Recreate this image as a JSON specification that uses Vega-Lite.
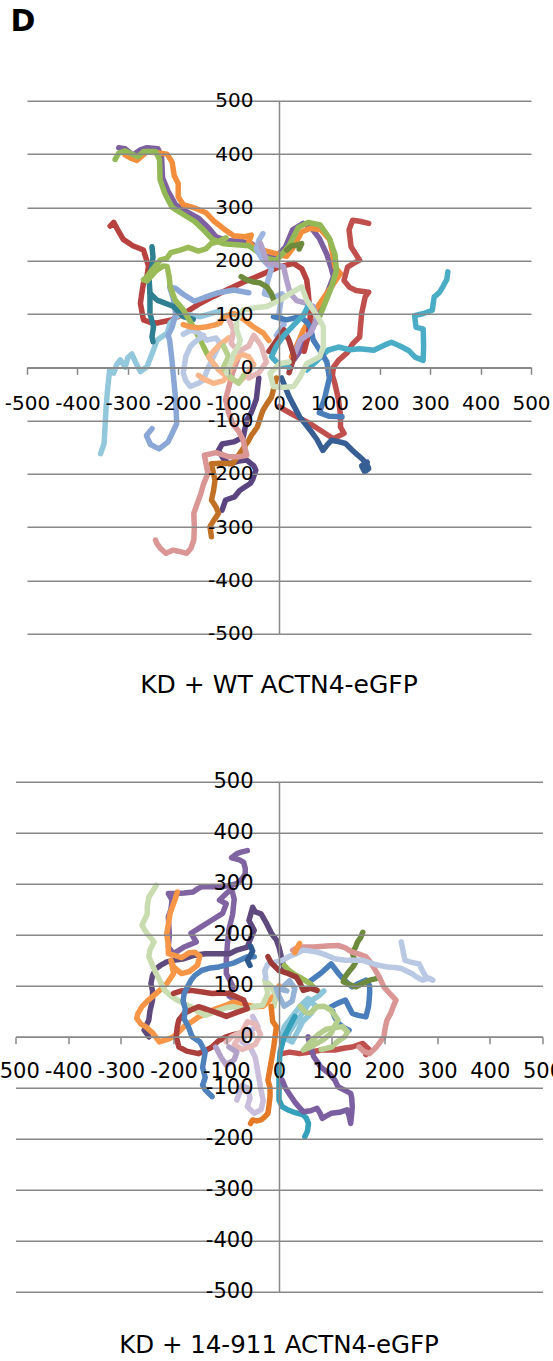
{
"$schema": "https://vega.github.io/schema/vega-lite/v6.json",
"autosize": "none",
"padding": {"left": 15.5, "top": 100.8, "right": 537.5, "bottom": 1260.2},
"background": "white",
"title": {"text": "D", "anchor": "start", "frame": "group", "fontSize": 30, "fontWeight": "bold", "font": "DejaVu Sans", "color": "#000", "offset": 54, "dx": -5},
"datasets": {
"wt": [
{"t":"a01","x":-318,"y":412},{"t":"a01","x":-305,"y":410},{"t":"a01","x":-290,"y":398},{"t":"a01","x":-275,"y":408},{"t":"a01","x":-262,"y":412},{"t":"a01","x":-240,"y":410},{"t":"a01","x":-233,"y":395},{"t":"a01","x":-231,"y":355},{"t":"a01","x":-220,"y":330},{"t":"a01","x":-205,"y":305},{"t":"a01","x":-185,"y":293},{"t":"a01","x":-160,"y":280},{"t":"a01","x":-140,"y":262},{"t":"a01","x":-125,"y":245},{"t":"a01","x":-105,"y":238},{"t":"a01","x":-75,"y":236},{"t":"a01","x":-55,"y":232},{"t":"a01","x":-40,"y":222},{"t":"a01","x":-20,"y":208},{"t":"a01","x":0,"y":213},{"t":"a01","x":13,"y":226},{"t":"a01","x":27,"y":258},{"t":"a01","x":48,"y":270},{"t":"a01","x":62,"y":264},{"t":"a01","x":80,"y":242},{"t":"a01","x":95,"y":212},{"t":"a01","x":104,"y":185},{"t":"a01","x":108,"y":170},{"t":"a01","x":100,"y":150},{"t":"a01","x":90,"y":126},{"t":"a01","x":80,"y":107},{"t":"a01","x":72,"y":85},{"t":"a01","x":60,"y":60},{"t":"a01","x":45,"y":35},{"t":"a01","x":30,"y":15},
{"t":"a02","x":-305,"y":398},{"t":"a02","x":-295,"y":393},{"t":"a02","x":-282,"y":388},{"t":"a02","x":-270,"y":398},{"t":"a02","x":-262,"y":404},{"t":"a02","x":-245,"y":403},{"t":"a02","x":-222,"y":400},{"t":"a02","x":-212,"y":385},{"t":"a02","x":-208,"y":360},{"t":"a02","x":-200,"y":345},{"t":"a02","x":-200,"y":320},{"t":"a02","x":-190,"y":305},{"t":"a02","x":-165,"y":298},{"t":"a02","x":-145,"y":290},{"t":"a02","x":-130,"y":275},{"t":"a02","x":-110,"y":260},{"t":"a02","x":-90,"y":247},{"t":"a02","x":-68,"y":245},{"t":"a02","x":-55,"y":248},{"t":"a02","x":-60,"y":235},{"t":"a02","x":-48,"y":224},{"t":"a02","x":-25,"y":218},{"t":"a02","x":0,"y":212},{"t":"a02","x":15,"y":208},{"t":"a02","x":27,"y":223},{"t":"a02","x":45,"y":254},{"t":"a02","x":62,"y":261},{"t":"a02","x":83,"y":258},{"t":"a02","x":101,"y":239},{"t":"a02","x":106,"y":215},{"t":"a02","x":111,"y":188},{"t":"a02","x":122,"y":176},{"t":"a02","x":104,"y":151},{"t":"a02","x":90,"y":132},{"t":"a02","x":76,"y":113},{"t":"a02","x":60,"y":88},{"t":"a02","x":48,"y":69},{"t":"a02","x":34,"y":38},{"t":"a02","x":25,"y":20},
{"t":"a03","x":-325,"y":390},{"t":"a03","x":-318,"y":402},{"t":"a03","x":-305,"y":406},{"t":"a03","x":-292,"y":400},{"t":"a03","x":-280,"y":395},{"t":"a03","x":-268,"y":405},{"t":"a03","x":-245,"y":405},{"t":"a03","x":-237,"y":390},{"t":"a03","x":-236,"y":352},{"t":"a03","x":-226,"y":325},{"t":"a03","x":-212,"y":300},{"t":"a03","x":-192,"y":288},{"t":"a03","x":-168,"y":274},{"t":"a03","x":-148,"y":256},{"t":"a03","x":-132,"y":240},{"t":"a03","x":-110,"y":232},{"t":"a03","x":-85,"y":230},{"t":"a03","x":-60,"y":228},{"t":"a03","x":-45,"y":218},{"t":"a03","x":-25,"y":205},{"t":"a03","x":-5,"y":200},{"t":"a03","x":20,"y":228},{"t":"a03","x":38,"y":262},{"t":"a03","x":58,"y":272},{"t":"a03","x":82,"y":267},{"t":"a03","x":100,"y":242},{"t":"a03","x":111,"y":212},{"t":"a03","x":114,"y":182},{"t":"a03","x":104,"y":150},{"t":"a03","x":88,"y":112},{"t":"a03","x":76,"y":85},
{"t":"a04","x":-335,"y":265},{"t":"a04","x":-328,"y":272},{"t":"a04","x":-320,"y":258},{"t":"a04","x":-309,"y":240},{"t":"a04","x":-290,"y":228},{"t":"a04","x":-269,"y":220},{"t":"a04","x":-259,"y":190},{"t":"a04","x":-262,"y":170},{"t":"a04","x":-269,"y":158},{"t":"a04","x":-272,"y":140},{"t":"a04","x":-275,"y":120},{"t":"a04","x":-269,"y":89},{"t":"a04","x":-255,"y":84},{"t":"a04","x":-242,"y":83},{"t":"a04","x":-213,"y":89},{"t":"a04","x":-190,"y":100},{"t":"a04","x":-160,"y":118},{"t":"a04","x":-130,"y":133},{"t":"a04","x":-104,"y":145},{"t":"a04","x":-70,"y":160},{"t":"a04","x":-37,"y":173},{"t":"a04","x":-15,"y":182},{"t":"a04","x":2,"y":189},{"t":"a04","x":29,"y":195},{"t":"a04","x":45,"y":185},{"t":"a04","x":55,"y":164},{"t":"a04","x":58,"y":140},{"t":"a04","x":62,"y":95},{"t":"a04","x":58,"y":60},{"t":"a04","x":50,"y":30},
{"t":"a05","x":178,"y":270},{"t":"a05","x":160,"y":274},{"t":"a05","x":146,"y":276},{"t":"a05","x":139,"y":258},{"t":"a05","x":143,"y":226},{"t":"a05","x":160,"y":201},{"t":"a05","x":148,"y":195},{"t":"a05","x":136,"y":188},{"t":"a05","x":129,"y":163},{"t":"a05","x":140,"y":150},{"t":"a05","x":153,"y":144},{"t":"a05","x":178,"y":141},{"t":"a05","x":171,"y":132},{"t":"a05","x":164,"y":101},{"t":"a05","x":162,"y":80},{"t":"a05","x":160,"y":57},{"t":"a05","x":146,"y":44},{"t":"a05","x":136,"y":28},{"t":"a05","x":118,"y":13},{"t":"a05","x":108,"y":0},{"t":"a05","x":106,"y":-15},{"t":"a05","x":111,"y":-31},{"t":"a05","x":118,"y":-60},{"t":"a05","x":122,"y":-90},{"t":"a05","x":122,"y":-112},{"t":"a05","x":129,"y":-124},{"t":"a05","x":108,"y":-134},{"t":"a05","x":85,"y":-120},{"t":"a05","x":62,"y":-106},{"t":"a05","x":30,"y":-90},{"t":"a05","x":0,"y":-74},
{"t":"a06","x":55,"y":-5},{"t":"a06","x":76,"y":13},{"t":"a06","x":97,"y":32},{"t":"a06","x":118,"y":38},{"t":"a06","x":140,"y":33},{"t":"a06","x":160,"y":35},{"t":"a06","x":188,"y":32},{"t":"a06","x":210,"y":42},{"t":"a06","x":223,"y":47},{"t":"a06","x":240,"y":40},{"t":"a06","x":258,"y":31},{"t":"a06","x":270,"y":19},{"t":"a06","x":286,"y":13},{"t":"a06","x":287,"y":40},{"t":"a06","x":286,"y":72},{"t":"a06","x":272,"y":75},{"t":"a06","x":269,"y":97},{"t":"a06","x":287,"y":101},{"t":"a06","x":304,"y":107},{"t":"a06","x":308,"y":132},{"t":"a06","x":318,"y":140},{"t":"a06","x":325,"y":151},{"t":"a06","x":333,"y":165},{"t":"a06","x":335,"y":179},
{"t":"a07","x":-120,"y":105},{"t":"a07","x":-156,"y":95},{"t":"a07","x":-196,"y":101},{"t":"a07","x":-216,"y":83},{"t":"a07","x":-222,"y":64},{"t":"a07","x":-242,"y":51},{"t":"a07","x":-250,"y":30},{"t":"a07","x":-262,"y":1},{"t":"a07","x":-275,"y":-8},{"t":"a07","x":-285,"y":10},{"t":"a07","x":-292,"y":25},{"t":"a07","x":-300,"y":18},{"t":"a07","x":-305,"y":0},{"t":"a07","x":-315,"y":14},{"t":"a07","x":-322,"y":5},{"t":"a07","x":-328,"y":-11},{"t":"a07","x":-336,"y":-5},{"t":"a07","x":-340,"y":-40},{"t":"a07","x":-343,"y":-74},{"t":"a07","x":-345,"y":-110},{"t":"a07","x":-347,"y":-143},{"t":"a07","x":-354,"y":-162},
{"t":"a08","x":-60,"y":140},{"t":"a08","x":-90,"y":145},{"t":"a08","x":-120,"y":140},{"t":"a08","x":-148,"y":131},{"t":"a08","x":-168,"y":124},{"t":"a08","x":-190,"y":137},{"t":"a08","x":-205,"y":148},{"t":"a08","x":-217,"y":151},{"t":"a08","x":-210,"y":130},{"t":"a08","x":-205,"y":100},{"t":"a08","x":-212,"y":75},{"t":"a08","x":-220,"y":60},{"t":"a08","x":-217,"y":51},{"t":"a08","x":-212,"y":10},{"t":"a08","x":-210,"y":-12},{"t":"a08","x":-205,"y":-60},{"t":"a08","x":-203,"y":-106},{"t":"a08","x":-220,"y":-140},{"t":"a08","x":-238,"y":-153},{"t":"a08","x":-255,"y":-145},{"t":"a08","x":-263,"y":-128},{"t":"a08","x":-252,"y":-115},
{"t":"a25","x":-32,"y":251},{"t":"a25","x":-40,"y":238},{"t":"a25","x":-45,"y":222},{"t":"a25","x":-35,"y":205},{"t":"a25","x":-15,"y":185},{"t":"a25","x":-22,"y":163},{"t":"a25","x":-29,"y":138},{"t":"a25","x":-8,"y":132},{"t":"a25","x":6,"y":138},{"t":"a25","x":0,"y":100},{"t":"a25","x":10,"y":80},{"t":"a25","x":-5,"y":60},
{"t":"a09","x":5,"y":-20},{"t":"a09","x":20,"y":-55},{"t":"a09","x":41,"y":-93},{"t":"a09","x":62,"y":-118},{"t":"a09","x":75,"y":-135},{"t":"a09","x":87,"y":-156},{"t":"a09","x":96,"y":-145},{"t":"a09","x":104,"y":-137},{"t":"a09","x":120,"y":-140},{"t":"a09","x":132,"y":-143},{"t":"a09","x":145,"y":-155},{"t":"a09","x":153,"y":-162},{"t":"a09","x":165,"y":-172},{"t":"a09","x":174,"y":-181},{"t":"a09","x":178,"y":-190},{"t":"a09","x":170,"y":-196},{"t":"a09","x":164,"y":-185},{"t":"a09","x":175,"y":-178},
{"t":"a20","x":-11,"y":95},{"t":"a20","x":15,"y":89},{"t":"a20","x":42,"y":95},{"t":"a20","x":55,"y":85},{"t":"a20","x":62,"y":76},{"t":"a20","x":68,"y":51},{"t":"a20","x":81,"y":32},{"t":"a20","x":95,"y":10},{"t":"a20","x":100,"y":-20},{"t":"a20","x":90,"y":-60},{"t":"a20","x":80,"y":-85},{"t":"a20","x":100,"y":-92},{"t":"a20","x":125,"y":-93},
{"t":"a10","x":-40,"y":-20},{"t":"a10","x":-45,"y":-60},{"t":"a10","x":-55,"y":-85},{"t":"a10","x":-64,"y":-99},{"t":"a10","x":-71,"y":-131},{"t":"a10","x":-90,"y":-140},{"t":"a10","x":-113,"y":-144},{"t":"a10","x":-120,"y":-156},{"t":"a10","x":-110,"y":-172},{"t":"a10","x":-99,"y":-181},{"t":"a10","x":-80,"y":-176},{"t":"a10","x":-64,"y":-174},{"t":"a10","x":-50,"y":-185},{"t":"a10","x":-46,"y":-193},{"t":"a10","x":-52,"y":-210},{"t":"a10","x":-57,"y":-218},{"t":"a10","x":-70,"y":-226},{"t":"a10","x":-78,"y":-231},{"t":"a10","x":-88,"y":-243},{"t":"a10","x":-106,"y":-249},{"t":"a10","x":-113,"y":-268},
{"t":"a11","x":-5,"y":-20},{"t":"a11","x":-15,"y":-56},{"t":"a11","x":-25,"y":-70},{"t":"a11","x":-32,"y":-81},{"t":"a11","x":-43,"y":-112},{"t":"a11","x":-55,"y":-128},{"t":"a11","x":-60,"y":-137},{"t":"a11","x":-74,"y":-156},{"t":"a11","x":-92,"y":-181},{"t":"a11","x":-115,"y":-180},{"t":"a11","x":-134,"y":-181},{"t":"a11","x":-127,"y":-212},{"t":"a11","x":-130,"y":-232},{"t":"a11","x":-134,"y":-249},{"t":"a11","x":-125,"y":-262},{"t":"a11","x":-120,"y":-274},{"t":"a11","x":-130,"y":-288},{"t":"a11","x":-137,"y":-299},{"t":"a11","x":-134,"y":-318},
{"t":"a12","x":-80,"y":20},{"t":"a12","x":-92,"y":-10},{"t":"a12","x":-106,"y":-60},{"t":"a12","x":-100,"y":-85},{"t":"a12","x":-92,"y":-106},{"t":"a12","x":-80,"y":-120},{"t":"a12","x":-71,"y":-137},{"t":"a12","x":-68,"y":-150},{"t":"a12","x":-64,"y":-165},{"t":"a12","x":-80,"y":-168},{"t":"a12","x":-99,"y":-168},{"t":"a12","x":-125,"y":-160},{"t":"a12","x":-148,"y":-165},{"t":"a12","x":-141,"y":-199},{"t":"a12","x":-150,"y":-220},{"t":"a12","x":-155,"y":-237},{"t":"a12","x":-162,"y":-255},{"t":"a12","x":-169,"y":-274},{"t":"a12","x":-168,"y":-300},{"t":"a12","x":-169,"y":-324},{"t":"a12","x":-175,"y":-340},{"t":"a12","x":-183,"y":-349},{"t":"a12","x":-200,"y":-345},{"t":"a12","x":-210,"y":-343},{"t":"a12","x":-224,"y":-349},{"t":"a12","x":-235,"y":-340},{"t":"a12","x":-242,"y":-331},{"t":"a12","x":-245,"y":-324},
{"t":"a13","x":-252,"y":226},{"t":"a13","x":-250,"y":208},{"t":"a13","x":-252,"y":189},{"t":"a13","x":-258,"y":170},{"t":"a13","x":-256,"y":139},{"t":"a13","x":-256,"y":120},{"t":"a13","x":-256,"y":101},{"t":"a13","x":-249,"y":76},{"t":"a13","x":-252,"y":57},{"t":"a13","x":-250,"y":48},
{"t":"a26","x":-256,"y":139},{"t":"a26","x":-242,"y":126},{"t":"a26","x":-225,"y":120},{"t":"a26","x":-209,"y":114},{"t":"a26","x":-190,"y":95},{"t":"a26","x":-170,"y":90},
{"t":"a14","x":-105,"y":243},{"t":"a14","x":-120,"y":236},{"t":"a14","x":-135,"y":232},{"t":"a14","x":-145,"y":222},{"t":"a14","x":-160,"y":218},{"t":"a14","x":-180,"y":225},{"t":"a14","x":-196,"y":220},{"t":"a14","x":-215,"y":215},{"t":"a14","x":-222,"y":205},{"t":"a14","x":-236,"y":201},{"t":"a14","x":-250,"y":185},{"t":"a14","x":-262,"y":170},{"t":"a14","x":-269,"y":164},{"t":"a14","x":-262,"y":162},{"t":"a14","x":-245,"y":180},{"t":"a14","x":-230,"y":190},{"t":"a14","x":-222,"y":189},{"t":"a14","x":-218,"y":170},{"t":"a14","x":-216,"y":151},{"t":"a14","x":-206,"y":126},{"t":"a14","x":-190,"y":108},{"t":"a14","x":-170,"y":76},{"t":"a14","x":-156,"y":51},{"t":"a14","x":-143,"y":26},{"t":"a14","x":-130,"y":5},
{"t":"a16","x":-150,"y":60},{"t":"a16","x":-170,"y":45},{"t":"a16","x":-176,"y":39},{"t":"a16","x":-185,"y":20},{"t":"a16","x":-190,"y":-11},{"t":"a16","x":-185,"y":-25},{"t":"a16","x":-176,"y":-36},{"t":"a16","x":-160,"y":-30},{"t":"a16","x":-150,"y":-24},{"t":"a16","x":-140,"y":0},{"t":"a16","x":-130,"y":20},{"t":"a16","x":-117,"y":45},{"t":"a16","x":-125,"y":55},{"t":"a16","x":-143,"y":51},{"t":"a16","x":-160,"y":65},{"t":"a16","x":-175,"y":70},{"t":"a16","x":-190,"y":62},
{"t":"a17","x":-160,"y":-15},{"t":"a17","x":-150,"y":-22},{"t":"a17","x":-130,"y":-30},{"t":"a17","x":-110,"y":-25},{"t":"a17","x":-100,"y":-10},{"t":"a17","x":-90,"y":10},{"t":"a17","x":-75,"y":25},{"t":"a17","x":-60,"y":20},{"t":"a17","x":-50,"y":5},{"t":"a17","x":-65,"y":-15},{"t":"a17","x":-80,"y":-28},{"t":"a17","x":-100,"y":-20},{"t":"a17","x":-120,"y":-5},{"t":"a17","x":-140,"y":20},{"t":"a17","x":-120,"y":40},{"t":"a17","x":-100,"y":55},
{"t":"a18","x":-100,"y":90},{"t":"a18","x":-90,"y":70},{"t":"a18","x":-95,"y":45},{"t":"a18","x":-80,"y":30},{"t":"a18","x":-60,"y":40},{"t":"a18","x":-50,"y":60},{"t":"a18","x":-35,"y":40},{"t":"a18","x":-25,"y":10},{"t":"a18","x":-40,"y":-10},{"t":"a18","x":-60,"y":-20},
{"t":"a19","x":-37,"y":233},{"t":"a19","x":-30,"y":215},{"t":"a19","x":-24,"y":195},{"t":"a19","x":-5,"y":192},{"t":"a19","x":9,"y":189},{"t":"a19","x":15,"y":164},{"t":"a19","x":22,"y":139},{"t":"a19","x":35,"y":125},{"t":"a19","x":55,"y":120},{"t":"a19","x":68,"y":114},{"t":"a19","x":75,"y":89},{"t":"a19","x":62,"y":64},{"t":"a19","x":42,"y":51},{"t":"a19","x":29,"y":20},
{"t":"a21","x":-75,"y":170},{"t":"a21","x":-64,"y":164},{"t":"a21","x":-50,"y":160},{"t":"a21","x":-37,"y":158},{"t":"a21","x":-24,"y":151},{"t":"a21","x":-15,"y":138},{"t":"a21","x":-10,"y":125},
{"t":"a27","x":15,"y":220},{"t":"a27","x":25,"y":228},{"t":"a27","x":34,"y":229},{"t":"a27","x":45,"y":232},{"t":"a27","x":40,"y":222},
{"t":"a22","x":-20,"y":30},{"t":"a22","x":-5,"y":50},{"t":"a22","x":10,"y":70},{"t":"a22","x":20,"y":50},{"t":"a22","x":30,"y":20},{"t":"a22","x":20,"y":-10},
{"t":"a23","x":-110,"y":40},{"t":"a23","x":-100,"y":20},{"t":"a23","x":-110,"y":0},{"t":"a23","x":-95,"y":-20},{"t":"a23","x":-80,"y":-30},{"t":"a23","x":-70,"y":-15},
{"t":"a24","x":-190,"y":80},{"t":"a24","x":-176,"y":76},{"t":"a24","x":-160,"y":74},{"t":"a24","x":-143,"y":76},{"t":"a24","x":-125,"y":80},{"t":"a24","x":-117,"y":83},{"t":"a24","x":-110,"y":95},{"t":"a24","x":-90,"y":101},{"t":"a24","x":-70,"y":90},{"t":"a24","x":-51,"y":76},{"t":"a24","x":-31,"y":64},{"t":"a24","x":-20,"y":50},
{"t":"a28","x":60,"y":120},{"t":"a28","x":50,"y":100},{"t":"a28","x":30,"y":80},{"t":"a28","x":10,"y":60},{"t":"a28","x":-5,"y":40},{"t":"a28","x":-15,"y":20},{"t":"a28","x":0,"y":5},{"t":"a28","x":20,"y":0},
{"t":"a15","x":-104,"y":-11},{"t":"a15","x":-95,"y":10},{"t":"a15","x":-90,"y":26},{"t":"a15","x":-80,"y":40},{"t":"a15","x":-77,"y":51},{"t":"a15","x":-84,"y":70},{"t":"a15","x":-84,"y":89},{"t":"a15","x":-71,"y":108},{"t":"a15","x":-45,"y":112},{"t":"a15","x":-24,"y":114},{"t":"a15","x":2,"y":126},{"t":"a15","x":25,"y":140},{"t":"a15","x":45,"y":151},{"t":"a15","x":55,"y":126},{"t":"a15","x":68,"y":107},{"t":"a15","x":80,"y":90},{"t":"a15","x":88,"y":76},{"t":"a15","x":88,"y":55},{"t":"a15","x":88,"y":39},{"t":"a15","x":81,"y":20},{"t":"a15","x":55,"y":7},{"t":"a15","x":42,"y":-18},{"t":"a15","x":29,"y":-36},{"t":"a15","x":5,"y":-38},{"t":"a15","x":-11,"y":-36},{"t":"a15","x":-18,"y":-11},{"t":"a15","x":2,"y":7},{"t":"a15","x":20,"y":10}
],
"kd": [
{"t":"b01","x":-60,"y":365},{"t":"b01","x":-72,"y":362},{"t":"b01","x":-80,"y":359},{"t":"b01","x":-90,"y":351},{"t":"b01","x":-75,"y":347},{"t":"b01","x":-67,"y":342},{"t":"b01","x":-64,"y":330},{"t":"b01","x":-64,"y":320},{"t":"b01","x":-70,"y":310},{"t":"b01","x":-80,"y":300},{"t":"b01","x":-95,"y":297},{"t":"b01","x":-107,"y":294},{"t":"b01","x":-127,"y":294},{"t":"b01","x":-147,"y":294},{"t":"b01","x":-155,"y":290},{"t":"b01","x":-163,"y":284},{"t":"b01","x":-180,"y":282},{"t":"b01","x":-193,"y":281},{"t":"b01","x":-210,"y":281},{"t":"b01","x":-203,"y":268},{"t":"b01","x":-205,"y":250},{"t":"b01","x":-210,"y":235},{"t":"b01","x":-208,"y":200},{"t":"b01","x":-210,"y":176},{"t":"b01","x":-200,"y":163},{"t":"b01","x":-180,"y":176},{"t":"b01","x":-157,"y":186},{"t":"b01","x":-167,"y":203},{"t":"b01","x":-147,"y":216},{"t":"b01","x":-127,"y":229},{"t":"b01","x":-107,"y":242},{"t":"b01","x":-100,"y":261},{"t":"b01","x":-113,"y":268},{"t":"b01","x":-100,"y":281},{"t":"b01","x":-90,"y":290},{"t":"b01","x":-85,"y":270},{"t":"b01","x":-88,"y":240},{"t":"b01","x":-95,"y":210},{"t":"b01","x":-98,"y":180},{"t":"b01","x":-100,"y":150},{"t":"b01","x":-100,"y":124},{"t":"b01","x":-87,"y":98},{"t":"b01","x":-95,"y":80},{"t":"b01","x":-80,"y":70},
{"t":"b02","x":-247,"y":0},{"t":"b02","x":-250,"y":5},{"t":"b02","x":-256,"y":13},{"t":"b02","x":-247,"y":33},{"t":"b02","x":-245,"y":50},{"t":"b02","x":-240,"y":72},{"t":"b02","x":-240,"y":90},{"t":"b02","x":-243,"y":104},{"t":"b02","x":-240,"y":120},{"t":"b02","x":-233,"y":134},{"t":"b02","x":-225,"y":140},{"t":"b02","x":-213,"y":147},{"t":"b02","x":-200,"y":150},{"t":"b02","x":-180,"y":153},{"t":"b02","x":-160,"y":160},{"t":"b02","x":-140,"y":163},{"t":"b02","x":-120,"y":163},{"t":"b02","x":-94,"y":163},{"t":"b02","x":-80,"y":170},{"t":"b02","x":-60,"y":176},{"t":"b02","x":-55,"y":190},{"t":"b02","x":-47,"y":209},{"t":"b02","x":-57,"y":228},{"t":"b02","x":-50,"y":254},{"t":"b02","x":-45,"y":245},{"t":"b02","x":-34,"y":241},{"t":"b02","x":-25,"y":225},{"t":"b02","x":-14,"y":202},{"t":"b02","x":-5,"y":190},{"t":"b02","x":0,"y":176},{"t":"b02","x":6,"y":150},{"t":"b02","x":10,"y":130},
{"t":"b03","x":-193,"y":284},{"t":"b03","x":-197,"y":270},{"t":"b03","x":-207,"y":241},{"t":"b03","x":-210,"y":220},{"t":"b03","x":-213,"y":202},{"t":"b03","x":-210,"y":180},{"t":"b03","x":-210,"y":163},{"t":"b03","x":-200,"y":160},{"t":"b03","x":-185,"y":155},{"t":"b03","x":-170,"y":165},{"t":"b03","x":-160,"y":166},{"t":"b03","x":-150,"y":158},{"t":"b03","x":-155,"y":140},{"t":"b03","x":-170,"y":128},{"t":"b03","x":-185,"y":124},{"t":"b03","x":-200,"y":137},{"t":"b03","x":-205,"y":150},{"t":"b03","x":-200,"y":124},{"t":"b03","x":-213,"y":104},{"t":"b03","x":-233,"y":85},{"t":"b03","x":-250,"y":70},{"t":"b03","x":-260,"y":59},{"t":"b03","x":-268,"y":45},{"t":"b03","x":-270,"y":36},{"t":"b03","x":-262,"y":25},{"t":"b03","x":-253,"y":20},{"t":"b03","x":-240,"y":8},{"t":"b03","x":-227,"y":-10},{"t":"b03","x":-212,"y":-5},{"t":"b03","x":-200,"y":0},{"t":"b03","x":-190,"y":10},{"t":"b03","x":-180,"y":20},{"t":"b03","x":-165,"y":30},{"t":"b03","x":-153,"y":39},{"t":"b03","x":-135,"y":48},{"t":"b03","x":-120,"y":55},{"t":"b03","x":-100,"y":62},{"t":"b03","x":-87,"y":68},{"t":"b03","x":-70,"y":65},{"t":"b03","x":-47,"y":59},{"t":"b03","x":-30,"y":60},{"t":"b03","x":-10,"y":80},{"t":"b03","x":0,"y":100},
{"t":"b04","x":-233,"y":297},{"t":"b04","x":-240,"y":285},{"t":"b04","x":-247,"y":274},{"t":"b04","x":-250,"y":255},{"t":"b04","x":-250,"y":241},{"t":"b04","x":-255,"y":230},{"t":"b04","x":-260,"y":219},{"t":"b04","x":-255,"y":210},{"t":"b04","x":-250,"y":202},{"t":"b04","x":-237,"y":186},{"t":"b04","x":-245,"y":170},{"t":"b04","x":-247,"y":157},{"t":"b04","x":-240,"y":140},{"t":"b04","x":-233,"y":124},{"t":"b04","x":-225,"y":108},{"t":"b04","x":-217,"y":91},{"t":"b04","x":-205,"y":80},{"t":"b04","x":-193,"y":72},{"t":"b04","x":-180,"y":65},{"t":"b04","x":-167,"y":59},{"t":"b04","x":-155,"y":50},{"t":"b04","x":-140,"y":42},{"t":"b04","x":-125,"y":48},{"t":"b04","x":-114,"y":52},{"t":"b04","x":-100,"y":57},{"t":"b04","x":-87,"y":59},{"t":"b04","x":-72,"y":55},{"t":"b04","x":-60,"y":55},{"t":"b04","x":-45,"y":60},{"t":"b04","x":-31,"y":62},{"t":"b04","x":-21,"y":85},{"t":"b04","x":-27,"y":111},{"t":"b04","x":-15,"y":100},{"t":"b04","x":-5,"y":80},{"t":"b04","x":-10,"y":60},
{"t":"b05","x":-200,"y":85},{"t":"b05","x":-185,"y":90},{"t":"b05","x":-167,"y":91},{"t":"b05","x":-145,"y":88},{"t":"b05","x":-127,"y":85},{"t":"b05","x":-110,"y":86},{"t":"b05","x":-94,"y":85},{"t":"b05","x":-80,"y":78},{"t":"b05","x":-67,"y":72},{"t":"b05","x":-60,"y":55},{"t":"b05","x":-80,"y":48},{"t":"b05","x":-100,"y":40},{"t":"b05","x":-120,"y":48},{"t":"b05","x":-140,"y":55},{"t":"b05","x":-153,"y":59},{"t":"b05","x":-168,"y":52},{"t":"b05","x":-180,"y":46},{"t":"b05","x":-190,"y":33},{"t":"b05","x":-193,"y":20},{"t":"b05","x":-195,"y":0},{"t":"b05","x":-190,"y":-20},{"t":"b05","x":-175,"y":-28},{"t":"b05","x":-153,"y":-33},{"t":"b05","x":-140,"y":-27},{"t":"b05","x":-127,"y":-20},{"t":"b05","x":-115,"y":-8},{"t":"b05","x":-100,"y":0},{"t":"b05","x":-87,"y":4},{"t":"b05","x":-74,"y":7},
{"t":"b06","x":6,"y":-33},{"t":"b06","x":20,"y":-30},{"t":"b06","x":39,"y":-33},{"t":"b06","x":60,"y":-30},{"t":"b06","x":80,"y":-26},{"t":"b06","x":106,"y":-26},{"t":"b06","x":125,"y":-22},{"t":"b06","x":139,"y":-20},{"t":"b06","x":159,"y":-13},{"t":"b06","x":172,"y":-26},{"t":"b06","x":165,"y":-35},
{"t":"b07","x":-47,"y":157},{"t":"b07","x":-60,"y":157},{"t":"b07","x":-85,"y":145},{"t":"b07","x":-114,"y":137},{"t":"b07","x":-130,"y":135},{"t":"b07","x":-147,"y":130},{"t":"b07","x":-160,"y":120},{"t":"b07","x":-167,"y":111},{"t":"b07","x":-175,"y":95},{"t":"b07","x":-180,"y":85},{"t":"b07","x":-182,"y":70},{"t":"b07","x":-178,"y":55},{"t":"b07","x":-180,"y":35},{"t":"b07","x":-172,"y":20},{"t":"b07","x":-165,"y":0},{"t":"b07","x":-150,"y":-10},{"t":"b07","x":-140,"y":-30},{"t":"b07","x":-145,"y":-60},{"t":"b07","x":-140,"y":-80},{"t":"b07","x":-145,"y":-95},{"t":"b07","x":-140,"y":-104},{"t":"b07","x":-133,"y":-111},{"t":"b07","x":-127,"y":-117},
{"t":"b08","x":60,"y":110},{"t":"b08","x":80,"y":125},{"t":"b08","x":99,"y":143},{"t":"b08","x":105,"y":135},{"t":"b08","x":113,"y":124},{"t":"b08","x":125,"y":110},{"t":"b08","x":139,"y":98},{"t":"b08","x":152,"y":105},{"t":"b08","x":165,"y":111},{"t":"b08","x":172,"y":100},{"t":"b08","x":172,"y":85},{"t":"b08","x":170,"y":60},{"t":"b08","x":165,"y":39},{"t":"b08","x":150,"y":42},{"t":"b08","x":139,"y":46},{"t":"b08","x":132,"y":60},{"t":"b08","x":126,"y":72},{"t":"b08","x":110,"y":65},{"t":"b08","x":99,"y":59},{"t":"b08","x":105,"y":40},{"t":"b08","x":113,"y":26},{"t":"b08","x":123,"y":18},{"t":"b08","x":133,"y":13},
{"t":"b09","x":159,"y":205},{"t":"b09","x":155,"y":195},{"t":"b09","x":149,"y":186},{"t":"b09","x":145,"y":175},{"t":"b09","x":139,"y":166},{"t":"b09","x":142,"y":155},{"t":"b09","x":146,"y":147},{"t":"b09","x":140,"y":137},{"t":"b09","x":132,"y":127},{"t":"b09","x":125,"y":117},{"t":"b09","x":122,"y":108},{"t":"b09","x":135,"y":102},{"t":"b09","x":146,"y":98},{"t":"b09","x":160,"y":105},{"t":"b09","x":172,"y":111},{"t":"b09","x":185,"y":114},
{"t":"b10","x":10,"y":140},{"t":"b10","x":19,"y":130},{"t":"b10","x":30,"y":122},{"t":"b10","x":39,"y":117},{"t":"b10","x":50,"y":110},{"t":"b10","x":59,"y":104},{"t":"b10","x":72,"y":91},{"t":"b10","x":80,"y":85},
{"t":"b11","x":26,"y":170},{"t":"b11","x":35,"y":175},{"t":"b11","x":46,"y":176},{"t":"b11","x":66,"y":176},{"t":"b11","x":90,"y":178},{"t":"b11","x":112,"y":179},{"t":"b11","x":125,"y":175},{"t":"b11","x":139,"y":166},{"t":"b11","x":152,"y":162},{"t":"b11","x":165,"y":157},{"t":"b11","x":172,"y":148},{"t":"b11","x":179,"y":137},{"t":"b11","x":190,"y":118},{"t":"b11","x":199,"y":98},{"t":"b11","x":210,"y":85},{"t":"b11","x":222,"y":72},{"t":"b11","x":217,"y":60},{"t":"b11","x":212,"y":46},{"t":"b11","x":205,"y":33},{"t":"b11","x":202,"y":20},{"t":"b11","x":199,"y":0},{"t":"b11","x":192,"y":-10},{"t":"b11","x":185,"y":-20},{"t":"b11","x":172,"y":-33},{"t":"b11","x":160,"y":-28},{"t":"b11","x":152,"y":-20},
{"t":"b12","x":232,"y":186},{"t":"b12","x":235,"y":170},{"t":"b12","x":239,"y":150},{"t":"b12","x":252,"y":146},{"t":"b12","x":266,"y":143},{"t":"b12","x":272,"y":130},{"t":"b12","x":279,"y":117},{"t":"b12","x":292,"y":111},{"t":"b12","x":285,"y":115},{"t":"b12","x":272,"y":111},{"t":"b12","x":260,"y":118},{"t":"b12","x":252,"y":124},{"t":"b12","x":232,"y":134},{"t":"b12","x":220,"y":136},{"t":"b12","x":206,"y":137},{"t":"b12","x":190,"y":140},{"t":"b12","x":179,"y":143},{"t":"b12","x":159,"y":150},{"t":"b12","x":140,"y":150},{"t":"b12","x":126,"y":150},{"t":"b12","x":106,"y":153},{"t":"b12","x":90,"y":160},{"t":"b12","x":73,"y":166},{"t":"b12","x":60,"y":168},{"t":"b12","x":46,"y":170},{"t":"b12","x":33,"y":163},{"t":"b12","x":20,"y":158},{"t":"b12","x":6,"y":150},{"t":"b12","x":-10,"y":146},{"t":"b12","x":-21,"y":143},{"t":"b12","x":-27,"y":130},{"t":"b12","x":-25,"y":115},
{"t":"b13","x":85,"y":90},{"t":"b13","x":75,"y":80},{"t":"b13","x":60,"y":70},{"t":"b13","x":50,"y":55},{"t":"b13","x":40,"y":40},{"t":"b13","x":30,"y":25},{"t":"b13","x":20,"y":10},{"t":"b13","x":15,"y":-5},{"t":"b13","x":25,"y":-10},{"t":"b13","x":35,"y":10},{"t":"b13","x":45,"y":30},{"t":"b13","x":60,"y":45},{"t":"b13","x":70,"y":60},{"t":"b13","x":55,"y":75},{"t":"b13","x":40,"y":60},{"t":"b13","x":25,"y":40},{"t":"b13","x":10,"y":20},{"t":"b13","x":5,"y":0},
{"t":"b14","x":30,"y":40},{"t":"b14","x":20,"y":20},{"t":"b14","x":10,"y":0},{"t":"b14","x":2,"y":-30},{"t":"b14","x":0,"y":-60},{"t":"b14","x":0,"y":-90},{"t":"b14","x":0,"y":-124},{"t":"b14","x":6,"y":-137},{"t":"b14","x":16,"y":-143},{"t":"b14","x":26,"y":-147},{"t":"b14","x":36,"y":-150},{"t":"b14","x":46,"y":-153},{"t":"b14","x":52,"y":-160},{"t":"b14","x":56,"y":-170},{"t":"b14","x":54,"y":-185},{"t":"b14","x":49,"y":-196},
{"t":"b15","x":55,"y":0},{"t":"b15","x":60,"y":-20},{"t":"b15","x":66,"y":-39},{"t":"b15","x":72,"y":-48},{"t":"b15","x":79,"y":-59},{"t":"b15","x":95,"y":-72},{"t":"b15","x":106,"y":-85},{"t":"b15","x":112,"y":-98},{"t":"b15","x":125,"y":-105},{"t":"b15","x":136,"y":-111},{"t":"b15","x":138,"y":-120},{"t":"b15","x":139,"y":-137},{"t":"b15","x":138,"y":-150},{"t":"b15","x":136,"y":-170},{"t":"b15","x":133,"y":-155},{"t":"b15","x":129,"y":-143},{"t":"b15","x":115,"y":-148},{"t":"b15","x":99,"y":-150},{"t":"b15","x":90,"y":-155},{"t":"b15","x":82,"y":-160},{"t":"b15","x":78,"y":-150},{"t":"b15","x":72,"y":-140},{"t":"b15","x":60,"y":-145},{"t":"b15","x":46,"y":-147},{"t":"b15","x":30,"y":-128},{"t":"b15","x":19,"y":-111},{"t":"b15","x":12,"y":-100},{"t":"b15","x":6,"y":-85},
{"t":"b16","x":-15,"y":60},{"t":"b16","x":-12,"y":30},{"t":"b16","x":-5,"y":20},{"t":"b16","x":-10,"y":-20},{"t":"b16","x":-15,"y":-50},{"t":"b16","x":-21,"y":-85},{"t":"b16","x":-17,"y":-100},{"t":"b16","x":-17,"y":-117},{"t":"b16","x":-19,"y":-135},{"t":"b16","x":-21,"y":-150},{"t":"b16","x":-28,"y":-158},{"t":"b16","x":-34,"y":-163},{"t":"b16","x":-42,"y":-165},{"t":"b16","x":-50,"y":-163},{"t":"b16","x":-54,"y":-170},
{"t":"b17","x":-50,"y":40},{"t":"b17","x":-40,"y":20},{"t":"b17","x":-60,"y":10},{"t":"b17","x":-70,"y":-10},{"t":"b17","x":-55,"y":-20},{"t":"b17","x":-45,"y":-40},{"t":"b17","x":-40,"y":-70},{"t":"b17","x":-35,"y":-100},{"t":"b17","x":-30,"y":-125},{"t":"b17","x":-34,"y":-143},{"t":"b17","x":-47,"y":-150},{"t":"b17","x":-60,"y":-137},{"t":"b17","x":-55,"y":-120},{"t":"b17","x":-60,"y":-100},{"t":"b17","x":-70,"y":-95},{"t":"b17","x":-75,"y":-110},{"t":"b17","x":-80,"y":-124},
{"t":"b18","x":-100,"y":-10},{"t":"b18","x":-90,"y":0},{"t":"b18","x":-70,"y":10},{"t":"b18","x":-60,"y":30},{"t":"b18","x":-45,"y":25},{"t":"b18","x":-35,"y":5},{"t":"b18","x":-45,"y":-15},{"t":"b18","x":-70,"y":-25},{"t":"b18","x":-85,"y":-15},{"t":"b18","x":-75,"y":0},{"t":"b18","x":-50,"y":5},
{"t":"b19","x":-120,"y":-20},{"t":"b19","x":-110,"y":-40},{"t":"b19","x":-100,"y":-55},{"t":"b19","x":-85,"y":-45},{"t":"b19","x":-80,"y":-30},{"t":"b19","x":-95,"y":-20},
{"t":"b20","x":10,"y":100},{"t":"b20","x":20,"y":110},{"t":"b20","x":30,"y":95},{"t":"b20","x":25,"y":70},{"t":"b20","x":10,"y":60},{"t":"b20","x":0,"y":80},{"t":"b20","x":-5,"y":95},{"t":"b20","x":15,"y":90},
{"t":"b21","x":-54,"y":178},{"t":"b21","x":-50,"y":168},{"t":"b21","x":-54,"y":160},{"t":"b21","x":-60,"y":150},{"t":"b21","x":-55,"y":140},
{"t":"b22","x":-21,"y":157},{"t":"b22","x":-15,"y":145},{"t":"b22","x":0,"y":130},{"t":"b22","x":15,"y":125},{"t":"b22","x":33,"y":117},{"t":"b22","x":40,"y":105},{"t":"b22","x":46,"y":91},{"t":"b22","x":60,"y":95},{"t":"b22","x":72,"y":91},
{"t":"b23","x":40,"y":60},{"t":"b23","x":50,"y":48},{"t":"b23","x":59,"y":46},{"t":"b23","x":72,"y":59},{"t":"b23","x":85,"y":60},{"t":"b23","x":99,"y":52},{"t":"b23","x":112,"y":33},{"t":"b23","x":105,"y":20},{"t":"b23","x":99,"y":7},{"t":"b23","x":85,"y":-5},{"t":"b23","x":72,"y":-13},{"t":"b23","x":60,"y":-20},{"t":"b23","x":46,"y":-26},{"t":"b23","x":60,"y":-10},{"t":"b23","x":75,"y":5},{"t":"b23","x":90,"y":15},{"t":"b23","x":120,"y":20},{"t":"b23","x":130,"y":10},{"t":"b23","x":125,"y":0},{"t":"b23","x":110,"y":-10},{"t":"b23","x":100,"y":-20},{"t":"b23","x":80,"y":-25},
{"t":"b24","x":39,"y":183},{"t":"b24","x":35,"y":175},{"t":"b24","x":30,"y":165}
]
},
"vconcat": [
{
"width": 504, "height": 533,
"data": {"name": "wt"},
"title": {"text": "KD + WT ACTN4-eGFP", "orient": "bottom", "anchor": "middle", "fontSize": 25, "fontWeight": "normal", "font": "DejaVu Sans", "color": "#000", "offset": 29},
"mark": {"type": "line", "strokeWidth": 5.5, "strokeCap": "round", "strokeJoin": "round"},
"encoding": {
"x": {"field": "x", "type": "quantitative", "scale": {"domain": [-500, 500], "nice": false, "zero": false},
 "axis": {"orient": "bottom", "offset": -266.5, "values": [-500,-400,-300,-200,-100,0,100,200,300,400,500], "labelExpr": "'' + datum.value", "grid": false, "title": null, "domainColor": "#888888", "domainWidth": 1.5, "tickColor": "#888888", "tickWidth": 1.5, "tickSize": 7, "labelFontSize": 20, "labelFont": "DejaVu Sans", "labelColor": "#000", "labelPadding": 19, "labelFlush": false, "labelOverlap": false, "labelBound": false, "zindex": 1}},
"y": {"field": "y", "type": "quantitative", "scale": {"domain": [-500, 500], "nice": false, "zero": false},
 "axis": {"orient": "left", "offset": -252, "values": [-500,-400,-300,-200,-100,0,100,200,300,400,500], "labelExpr": "'' + datum.value", "grid": true, "gridColor": "#888888", "gridWidth": 1.5, "gridOpacity": 1, "title": null, "domainColor": "#888888", "domainWidth": 1.5, "ticks": false, "tickSize": 0, "labelFontSize": 20, "labelFont": "DejaVu Sans", "labelColor": "#000", "labelPadding": 26, "labelFlush": false, "labelOverlap": false, "labelBound": false, "zindex": 1}},
"color": {"field": "t", "type": "nominal", "legend": null, "scale": {
 "domain": ["a01","a02","a03","a04","a05","a06","a07","a08","a09","a10","a11","a12","a13","a14","a15","a16","a17","a18","a19","a20","a21","a22","a23","a24","a25","a26","a27","a28","b01","b02","b03","b04","b05","b06","b07","b08","b09","b10","b11","b12","b13","b14","b15","b16","b17","b18","b19","b20","b21","b22","b23","b24"],
 "range": ["#7D60A0","#F38F3C","#93B956","#B8423F","#C0504D","#4BACC6","#93C8DC","#8AA7D6","#375F93","#5B4580","#C07125","#D99694","#2F7F93","#9BBB59","#CFE0BC","#B9C8E3","#F9B68A","#E3B7B6","#B0A2CA","#4A7EBB","#6E8B3D","#A33F3C","#B8D08E","#F59A4F","#9DB5DF","#2F7F93","#6E8B3D","#4BACC6","#8064A2","#5F4A7E","#F79646","#C8DCB0","#AA3F3B","#C0504D","#4F81BD","#4A7EBB","#6E8B3D","#9BBB59","#D99694","#B9C9E3","#8DC6DA","#34A0BA","#7B5FA0","#E47A28","#C9BEDB","#E6B9B8","#B3A2C7","#95B3D7","#2C5A8E","#9B3A37","#B5CE8E","#F79646"]}},
"order": {"value": null}
}
},
{
"width": 527, "height": 510,
"data": {"name": "kd"},
"title": {"text": "KD + 14-911 ACTN4-eGFP", "orient": "bottom", "anchor": "middle", "fontSize": 24.5, "fontWeight": "normal", "font": "DejaVu Sans", "color": "#000", "offset": 32},
"mark": {"type": "line", "strokeWidth": 5.5, "strokeCap": "round", "strokeJoin": "round"},
"encoding": {
"x": {"field": "x", "type": "quantitative", "scale": {"domain": [-500, 500], "nice": false, "zero": false},
 "axis": {"orient": "bottom", "offset": -255, "values": [-500,-400,-300,-200,-100,0,100,200,300,400,500], "labelExpr": "'' + datum.value", "grid": false, "title": null, "domainColor": "#888888", "domainWidth": 1.5, "tickColor": "#888888", "tickWidth": 1.5, "tickSize": 7, "labelFontSize": 21, "labelFont": "DejaVu Sans", "labelColor": "#000", "labelPadding": 17, "labelFlush": false, "labelOverlap": false, "labelBound": false, "zindex": 1}},
"y": {"field": "y", "type": "quantitative", "scale": {"domain": [-500, 500], "nice": false, "zero": false},
 "axis": {"orient": "left", "offset": -263.5, "values": [-500,-400,-300,-200,-100,0,100,200,300,400,500], "labelExpr": "'' + datum.value", "grid": true, "gridColor": "#888888", "gridWidth": 1.5, "gridOpacity": 1, "title": null, "domainColor": "#888888", "domainWidth": 1.5, "ticks": false, "tickSize": 0, "labelFontSize": 21, "labelFont": "DejaVu Sans", "labelColor": "#000", "labelPadding": 26, "labelFlush": false, "labelOverlap": false, "labelBound": false, "zindex": 1}},
"color": {"field": "t", "type": "nominal", "legend": null, "scale": {
 "domain": ["a01","a02","a03","a04","a05","a06","a07","a08","a09","a10","a11","a12","a13","a14","a15","a16","a17","a18","a19","a20","a21","a22","a23","a24","a25","a26","a27","a28","b01","b02","b03","b04","b05","b06","b07","b08","b09","b10","b11","b12","b13","b14","b15","b16","b17","b18","b19","b20","b21","b22","b23","b24"],
 "range": ["#7D60A0","#F38F3C","#93B956","#B8423F","#C0504D","#4BACC6","#93C8DC","#8AA7D6","#375F93","#5B4580","#C07125","#D99694","#2F7F93","#9BBB59","#CFE0BC","#B9C8E3","#F9B68A","#E3B7B6","#B0A2CA","#4A7EBB","#6E8B3D","#A33F3C","#B8D08E","#F59A4F","#9DB5DF","#2F7F93","#6E8B3D","#4BACC6","#8064A2","#5F4A7E","#F79646","#C8DCB0","#AA3F3B","#C0504D","#4F81BD","#4A7EBB","#6E8B3D","#9BBB59","#D99694","#B9C9E3","#8DC6DA","#34A0BA","#7B5FA0","#E47A28","#C9BEDB","#E6B9B8","#B3A2C7","#95B3D7","#2C5A8E","#9B3A37","#B5CE8E","#F79646"]}},
"order": {"value": null}
}
}
],
"spacing": 148,
"bounds": "flush",
"center": true,
"resolve": {"scale": {"x": "independent", "y": "independent", "color": "shared"}, "axis": {"x": "independent", "y": "independent"}},
"config": {"view": {"stroke": null}, "font": "DejaVu Sans"}
}
